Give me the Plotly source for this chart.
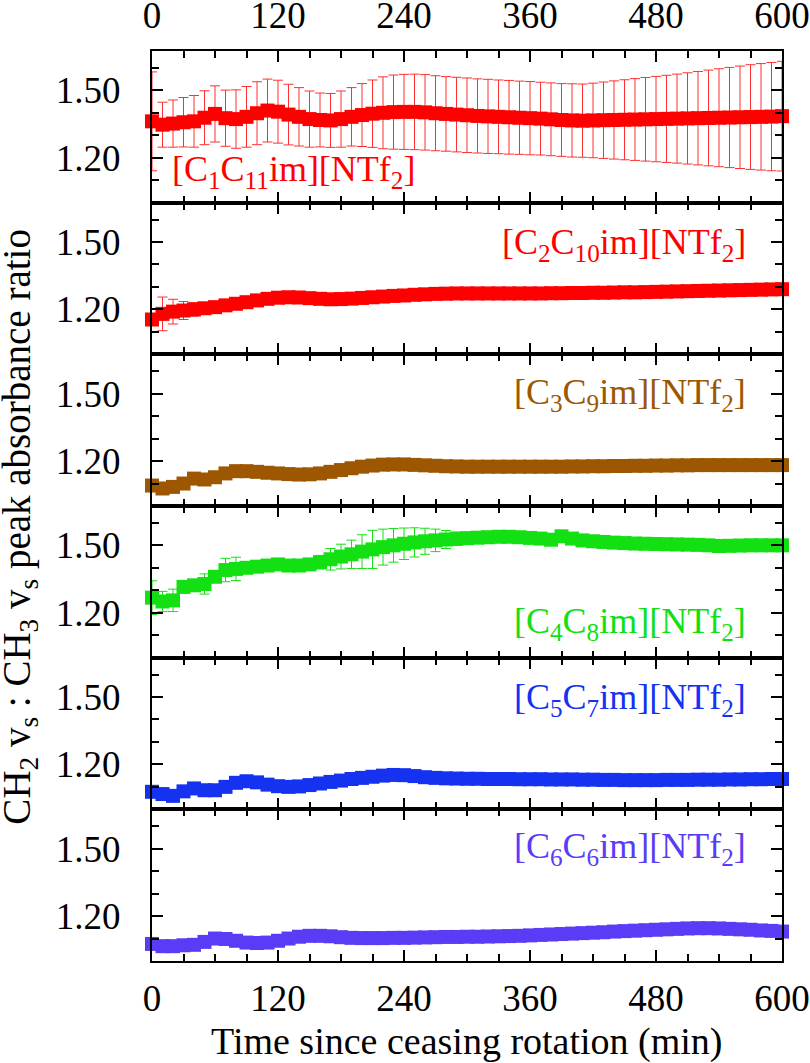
import plotly.graph_objects as go
from plotly.subplots import make_subplots

time_min = list(range(0, 601, 10))

c1c11 = [1.362, 1.347, 1.352, 1.358, 1.362, 1.378, 1.395, 1.376, 1.372, 1.382,
         1.398, 1.410, 1.405, 1.392, 1.382, 1.372, 1.368, 1.366, 1.372, 1.382,
         1.390, 1.396, 1.400, 1.403, 1.404, 1.404, 1.402, 1.398, 1.395, 1.392,
         1.389, 1.386, 1.384, 1.382, 1.380, 1.378, 1.376, 1.374, 1.371, 1.368,
         1.366, 1.365, 1.366, 1.367, 1.368, 1.369, 1.370, 1.371, 1.372, 1.373,
         1.374, 1.375, 1.376, 1.377, 1.378, 1.379, 1.380, 1.381, 1.382, 1.383, 1.385]
c1c11_err = [0.220, 0.100, 0.105, 0.110, 0.115, 0.120, 0.125, 0.125, 0.130, 0.135,
             0.140, 0.140, 0.140, 0.135, 0.130, 0.125, 0.120, 0.120, 0.125, 0.130,
             0.140, 0.150, 0.160, 0.165, 0.167, 0.168, 0.168, 0.167, 0.166, 0.166,
             0.166, 0.165, 0.165, 0.164, 0.164, 0.163, 0.163, 0.162, 0.162, 0.162,
             0.163, 0.163, 0.166, 0.170, 0.174, 0.178, 0.182, 0.186, 0.190, 0.194,
             0.198, 0.203, 0.208, 0.213, 0.218, 0.223, 0.228, 0.233, 0.237, 0.241, 0.244]

c2c10 = [1.155, 1.180, 1.190, 1.195, 1.200, 1.205, 1.210, 1.218, 1.225, 1.232,
         1.240, 1.247, 1.252, 1.254, 1.253, 1.250, 1.247, 1.245, 1.246, 1.248,
         1.251, 1.254, 1.257, 1.260, 1.262, 1.265, 1.267, 1.269, 1.270, 1.271,
         1.271, 1.271, 1.271, 1.271, 1.271, 1.271, 1.271, 1.271, 1.272, 1.272,
         1.273, 1.273, 1.274, 1.274, 1.275, 1.276, 1.276, 1.277, 1.278, 1.279,
         1.280, 1.281, 1.282, 1.283, 1.284, 1.285, 1.286, 1.287, 1.288, 1.289, 1.290]
c2c10_err = [0.0, 0.075, 0.055, 0.040, 0.030, 0.020, 0.015, 0.008, 0.006, 0.005,
             0.005, 0.005, 0.005, 0.005, 0.005, 0.005, 0.005, 0.005, 0.005, 0.005,
             0.005, 0.005, 0.005, 0.005, 0.005, 0.005, 0.005, 0.005, 0.005, 0.005,
             0.005, 0.005, 0.005, 0.005, 0.005, 0.005, 0.005, 0.005, 0.005, 0.005,
             0.005, 0.005, 0.005, 0.005, 0.005, 0.005, 0.005, 0.005, 0.005, 0.005,
             0.005, 0.006, 0.007, 0.008, 0.009, 0.010, 0.012, 0.015, 0.018, 0.020, 0.020]

c3c9 = [1.091, 1.078, 1.085, 1.100, 1.122, 1.118, 1.128, 1.145, 1.155, 1.155,
        1.152, 1.148, 1.145, 1.142, 1.140, 1.141, 1.145, 1.152, 1.160, 1.168,
        1.175, 1.180, 1.184, 1.185, 1.185, 1.183, 1.181, 1.179, 1.177, 1.176,
        1.175, 1.175, 1.175, 1.175, 1.175, 1.175, 1.175, 1.175, 1.175, 1.175,
        1.176, 1.176, 1.177, 1.177, 1.178, 1.178, 1.179, 1.179, 1.180, 1.180,
        1.181, 1.181, 1.182, 1.182, 1.182, 1.182, 1.182, 1.182, 1.182, 1.182, 1.182]
c3c9_err = [0.004] * 61

c4c8 = [1.267, 1.250, 1.255, 1.315, 1.322, 1.328, 1.360, 1.390, 1.395, 1.400,
        1.405, 1.410, 1.415, 1.410, 1.410, 1.415, 1.425, 1.438, 1.450, 1.460,
        1.472, 1.482, 1.492, 1.500, 1.507, 1.513, 1.518, 1.522, 1.526, 1.529,
        1.532, 1.534, 1.536, 1.538, 1.538, 1.536, 1.533, 1.530, 1.525, 1.540,
        1.530, 1.522, 1.518, 1.515, 1.512, 1.510, 1.508, 1.507, 1.506, 1.505,
        1.504, 1.503, 1.502, 1.500, 1.497, 1.498, 1.499, 1.500, 1.500, 1.500, 1.500]
c4c8_err = [0.075, 0.045, 0.050, 0.010, 0.010, 0.045, 0.020, 0.052, 0.052, 0.015,
            0.010, 0.010, 0.015, 0.020, 0.020, 0.020, 0.030, 0.048, 0.055, 0.063,
            0.075, 0.085, 0.080, 0.075, 0.070, 0.065, 0.058, 0.050, 0.040, 0.030,
            0.020, 0.010, 0.010, 0.010, 0.010, 0.010, 0.010, 0.010, 0.010, 0.010,
            0.010, 0.010, 0.010, 0.010, 0.010, 0.010, 0.010, 0.010, 0.010, 0.010,
            0.010, 0.010, 0.010, 0.010, 0.010, 0.010, 0.010, 0.010, 0.010, 0.010, 0.010]

c5c7 = [1.078, 1.068, 1.060, 1.080, 1.093, 1.085, 1.085, 1.100, 1.118, 1.125,
        1.120, 1.110, 1.103, 1.100, 1.102, 1.108, 1.115, 1.122, 1.128, 1.135,
        1.140, 1.145, 1.150, 1.153, 1.152, 1.148, 1.143, 1.140, 1.138, 1.137,
        1.136, 1.136, 1.135, 1.135, 1.135, 1.134, 1.134, 1.134, 1.133, 1.133,
        1.133, 1.132, 1.132, 1.131, 1.131, 1.130, 1.130, 1.130, 1.130, 1.131,
        1.131, 1.131, 1.132, 1.132, 1.132, 1.133, 1.133, 1.134, 1.134, 1.135, 1.135]
c5c7_err = [0.004] * 23 + [0.010, 0.010, 0.008] + [0.004] * 35

c6c6 = [1.076, 1.066, 1.066, 1.070, 1.072, 1.085, 1.100, 1.098, 1.090, 1.082,
        1.080, 1.082, 1.090, 1.100, 1.108, 1.112, 1.112, 1.110, 1.106, 1.103,
        1.102, 1.102, 1.102, 1.103, 1.103, 1.104, 1.105, 1.106, 1.107, 1.107,
        1.108, 1.108, 1.109, 1.110, 1.111, 1.112, 1.114, 1.116, 1.118, 1.120,
        1.122, 1.124, 1.126, 1.128, 1.131, 1.133, 1.135, 1.137, 1.139, 1.141,
        1.143, 1.145, 1.146, 1.146, 1.145, 1.143, 1.141, 1.139, 1.136, 1.134, 1.131]
c6c6_err = [0.003] * 61

labels = ["[C<sub>1</sub>C<sub>11</sub>im][NTf<sub>2</sub>]",
          "[C<sub>2</sub>C<sub>10</sub>im][NTf<sub>2</sub>]",
          "[C<sub>3</sub>C<sub>9</sub>im][NTf<sub>2</sub>]",
          "[C<sub>4</sub>C<sub>8</sub>im][NTf<sub>2</sub>]",
          "[C<sub>5</sub>C<sub>7</sub>im][NTf<sub>2</sub>]",
          "[C<sub>6</sub>C<sub>6</sub>im][NTf<sub>2</sub>]"]
series = [c1c11, c2c10, c3c9, c4c8, c5c7, c6c6]
errors = [c1c11_err, c2c10_err, c3c9_err, c4c8_err, c5c7_err, c6c6_err]
colors = ["#ff0000", "#ff0000", "#9c5700", "#12e012", "#1432f0", "#5a3cf6"]
err_colors = ["#ff3030", "#ff3030", "#9c5700", "#12e012", "#1432f0", "#5a3cf6"]
label_x = [17, 568, 568, 568, 568, 568]
label_y = [1.137, 1.49, 1.498, 1.15, 1.487, 1.50]
label_anchor = ["left", "right", "right", "right", "right", "right"]

xticks = [0, 120, 240, 360, 480, 600]
yticks = [1.20, 1.50]
ytick_text = ["1.20", "1.50"]

FONT = "'Liberation Serif', 'Times New Roman', Times, serif"
FS_TICK = 37
FS_TITLE = 38
FS_YTITLE = 39
FS_LABEL = 36

fig = make_subplots(rows=6, cols=1, vertical_spacing=0)

for i in range(6):
    fig.add_trace(go.Scatter(
        x=time_min, y=series[i], mode="markers",
        marker=dict(symbol="square", size=14, color=colors[i], line=dict(width=0)),
        error_y=dict(type="data", array=errors[i], visible=True,
                     color=err_colors[i], thickness=1, width=5),
        cliponaxis=False, showlegend=False), row=i + 1, col=1)

axis_common = dict(showline=True, linecolor="black", linewidth=2, mirror="allticks",
                   ticks="inside", ticklen=11, tickwidth=2, tickcolor="black",
                   showgrid=False, zeroline=False, automargin=False,
                   tickfont=dict(family=FONT, size=FS_TICK, color="black"))

for i in range(6):
    r = i + 1
    fig.update_xaxes(range=[0, 600], tickvals=xticks,
                     minor=dict(ticks="inside", ticklen=7, tickwidth=2, tickcolor="black",
                                dtick=30, tick0=0, showgrid=False),
                     showticklabels=(i == 0 or i == 5),
                     side="top" if i == 0 else "bottom",
                     ticklabelstandoff=(6 if i == 0 else 4),
                     row=r, col=1, **axis_common)
    fig.update_yaxes(range=[1.0, 1.675], tickvals=yticks, ticktext=ytick_text,
                     minor=dict(ticks="inside", ticklen=7, tickwidth=2, tickcolor="black",
                                tickvals=[1.1, 1.3, 1.4, 1.6], showgrid=False),
                     ticklabelstandoff=22,
                     row=r, col=1, **axis_common)
    fig.add_annotation(x=label_x[i], y=label_y[i], xref=f"x{'' if r == 1 else r}",
                       yref=f"y{'' if r == 1 else r}", text=labels[i], showarrow=False,
                       xanchor=label_anchor[i], yanchor="middle",
                       font=dict(family=FONT, size=FS_LABEL, color=colors[i]))

fig.add_annotation(x=0.5, y=-0.088, xref="paper", yref="paper", showarrow=False,
                   text="Time since ceasing rotation (min)", xanchor="center", yanchor="middle",
                   font=dict(family=FONT, size=FS_TITLE, color="black"))
fig.add_annotation(x=-0.21, y=0.477, xref="paper", yref="paper", showarrow=False,
                   text="CH<sub>2</sub> v<sub>s</sub> : CH<sub>3</sub> v<sub>s</sub> peak absorbance ratio",
                   textangle=-90, xanchor="center", yanchor="middle",
                   font=dict(family=FONT, size=FS_YTITLE, color="black"))

fig.update_layout(width=810, height=1063, margin=dict(l=152, r=28, t=51, b=102),
                  paper_bgcolor="white", plot_bgcolor="white")

fig.write_html("out.html")
